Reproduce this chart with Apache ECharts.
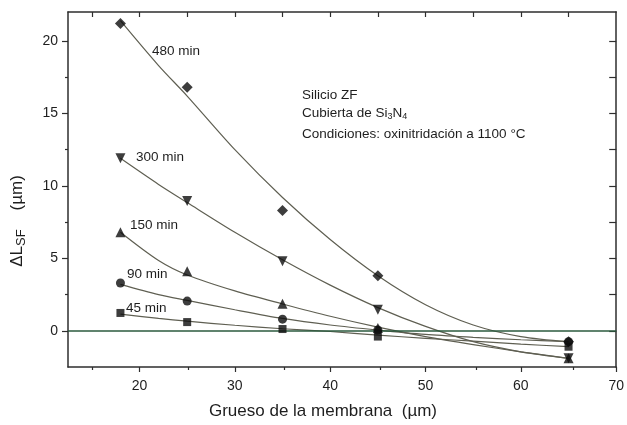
<!DOCTYPE html>
<html>
<head>
<meta charset="utf-8">
<script src="https://cdn.jsdelivr.net/npm/echarts@6/dist/echarts.min.js"></script>
<style>
  html, body { margin: 0; padding: 0; background: #fff; }
  #chart { width: 627px; height: 425px; }
</style>
</head>
<body>
<div id="chart"></div>
<script>
// Membrane thickness (µm) of the measured samples
const thickness = [18, 25, 35, 45, 65];

// Measured ΔL_SF (µm) for each oxinitridation time
const dl480 = [21.2, 16.8, 8.3, 3.8, -0.75];
const dl300 = [11.9, 8.95, 4.8, 1.45, -1.9];
const dl150 = [6.8, 4.1, 1.86, 0.2, -1.9];
const dl90 = [3.3, 2.05, 0.8, 0.05, -0.75];
const dl45 = [1.23, 0.6, 0.12, -0.4, -1.1];

// Fitted trend curves, sampled along the thickness axis
const fitX = [18, 22, 25, 30, 35, 40, 45, 50, 55, 60, 65];
const fit480 = [21.4, 18.3, 16.2, 12.5, 9.2, 6.3, 3.8, 1.8, 0.4, -0.4, -0.75];
const fit300 = [11.9, 10.1, 8.85, 6.8, 4.9, 3.15, 1.6, 0.3, -0.75, -1.45, -1.9];
const fit150 = [6.8, 4.85, 3.85, 2.75, 1.85, 1.0, 0.25, -0.4, -0.95, -1.45, -1.9];
const fit90 = [3.2, 2.5, 2.1, 1.45, 0.85, 0.4, 0.05, -0.25, -0.45, -0.62, -0.75];
const fit45 = [1.15, 0.85, 0.66, 0.38, 0.14, -0.05, -0.3, -0.52, -0.72, -0.92, -1.1];

// Tick positions
const xLabelTicks = [20, 30, 40, 50, 60, 70];
const xMinorTicks = [15, 25, 35, 45, 55, 65];
const xTopTicks = [15, 20, 25, 30, 35, 40, 45, 50, 55, 60, 65];
const yLabelTicks = [0, 5, 10, 15, 20];
const yMinorTicks = [2.5, 7.5, 12.5, 17.5];
const yRightTicks = [0, 2.5, 5, 7.5, 10, 12.5, 15, 17.5, 20];

const FONT = '"Liberation Sans", Arial, Helvetica, sans-serif';
const INK = '#1e1e1e';
const FRAME = '#2e2e2e';
const CURVE = '#5f5f52';
const MARK = '#0d0d0d';

const pairs = (xs, ys) => xs.map((x, i) => [x, ys[i]]);

const chart = echarts.init(document.getElementById('chart'), null, { renderer: 'canvas' });

const gridBox = { left: 68, top: 12, right: 6, bottom: 58 };
const X_MIN = 12.5, X_MAX = 70, Y_MIN = -2.5, Y_MAX = 22;

function fitSeries(name, ys, extra) {
  return Object.assign({
    name: name,
    type: 'line',
    xAxisIndex: 0,
    yAxisIndex: 0,
    data: pairs(fitX, ys),
    smooth: 0.3,
    showSymbol: false,
    silent: true,
    lineStyle: { color: CURVE, width: 1.2 },
    z: 2
  }, extra || {});
}

function pointSeries(name, ys, symbol, size, rotate) {
  return {
    name: name,
    type: 'scatter',
    xAxisIndex: 0,
    yAxisIndex: 0,
    data: pairs(thickness, ys),
    symbol: symbol,
    symbolSize: size,
    symbolRotate: rotate || 0,
    itemStyle: { color: MARK },
    z: 5
  };
}

const option = {
  animation: false,
  backgroundColor: '#fff',
  grid: [
    Object.assign({ show: false }, gridBox),
    Object.assign({ show: false }, gridBox)
  ],
  xAxis: [
    {
      gridIndex: 0, type: 'value', position: 'bottom', min: X_MIN, max: X_MAX,
      axisLine: { show: true, onZero: false, lineStyle: { color: FRAME, width: 1.5 } },
      axisTick: { show: true, inside: false, length: 5, customValues: xLabelTicks, lineStyle: { color: FRAME, width: 1.2 } },
      axisLabel: { show: true, customValues: xLabelTicks, margin: 12, color: INK, fontSize: 14, fontFamily: FONT },
      splitLine: { show: false }
    },
    {
      gridIndex: 0, type: 'value', position: 'top', min: X_MIN, max: X_MAX,
      axisLine: { show: true, onZero: false, lineStyle: { color: FRAME, width: 1.5 } },
      axisTick: { show: true, inside: true, length: 5, customValues: xTopTicks, lineStyle: { color: FRAME, width: 1.2 } },
      axisLabel: { show: false },
      splitLine: { show: false }
    },
    {
      gridIndex: 1, type: 'value', position: 'bottom', min: X_MIN, max: X_MAX,
      axisLine: { show: false, onZero: false },
      axisTick: { show: true, inside: false, length: 3, customValues: xMinorTicks, lineStyle: { color: FRAME, width: 1.2 } },
      axisLabel: { show: false },
      splitLine: { show: false }
    }
  ],
  yAxis: [
    {
      gridIndex: 0, type: 'value', position: 'left', min: Y_MIN, max: Y_MAX,
      axisLine: { show: true, onZero: false, lineStyle: { color: FRAME, width: 1.5 } },
      axisTick: { show: true, inside: false, length: 6, customValues: yLabelTicks, lineStyle: { color: FRAME, width: 1.2 } },
      axisLabel: { show: true, customValues: yLabelTicks, margin: 10, color: INK, fontSize: 14, fontFamily: FONT },
      splitLine: { show: false }
    },
    {
      gridIndex: 0, type: 'value', position: 'right', min: Y_MIN, max: Y_MAX,
      axisLine: { show: true, onZero: false, lineStyle: { color: FRAME, width: 1.5 } },
      axisTick: { show: true, inside: true, length: 7, customValues: yRightTicks, lineStyle: { color: FRAME, width: 1.2 } },
      axisLabel: { show: false },
      splitLine: { show: false }
    },
    {
      gridIndex: 1, type: 'value', position: 'left', min: Y_MIN, max: Y_MAX,
      axisLine: { show: false, onZero: false },
      axisTick: { show: true, inside: false, length: 3, customValues: yMinorTicks, lineStyle: { color: FRAME, width: 1.2 } },
      axisLabel: { show: false },
      splitLine: { show: false }
    }
  ],
  series: [
    fitSeries('480 min ajuste', fit480, {
      markLine: {
        silent: true,
        symbol: ['none', 'none'],
        label: { show: false },
        lineStyle: { color: '#2b5a3e', width: 1.6, type: 'solid' },
        data: [{ yAxis: 0 }]
      }
    }),
    fitSeries('300 min ajuste', fit300),
    fitSeries('150 min ajuste', fit150),
    fitSeries('90 min ajuste', fit90),
    fitSeries('45 min ajuste', fit45),
    pointSeries('480 min', dl480, 'diamond', 11),
    pointSeries('300 min', dl300, 'triangle', 10, 180),
    pointSeries('150 min', dl150, 'triangle', 10),
    pointSeries('90 min', dl90, 'circle', 9),
    pointSeries('45 min', dl45, 'rect', 8)
  ],
  graphic: [
    // curve labels
    { type: 'text', left: 152, top: 44, style: { text: '480 min', fill: INK, font: '13.5px ' + FONT } },
    { type: 'text', left: 136, top: 150, style: { text: '300 min', fill: INK, font: '13.5px ' + FONT } },
    { type: 'text', left: 130, top: 218, style: { text: '150 min', fill: INK, font: '13.5px ' + FONT } },
    { type: 'text', left: 127, top: 267, style: { text: '90 min', fill: INK, font: '13.5px ' + FONT } },
    { type: 'text', left: 126, top: 301, style: { text: '45 min', fill: INK, font: '13.5px ' + FONT } },
    // conditions note
    { type: 'text', left: 302, top: 88, style: { text: 'Silicio ZF', fill: INK, font: '13.5px ' + FONT } },
    {
      type: 'text', left: 302, top: 106,
      style: {
        text: '{m|Cubierta de Si}{s|3}{m|N}{s|4}',
        rich: {
          m: { fontSize: 13.5, fontFamily: FONT, fill: INK, color: INK },
          s: { fontSize: 9, fontFamily: FONT, fill: INK, color: INK, padding: [7, 0, 0, 0] }
        }
      }
    },
    { type: 'text', left: 302, top: 127, style: { text: 'Condiciones: oxinitridación a 1100 °C', fill: INK, font: '13.5px ' + FONT } },
    // axis titles
    {
      type: 'text', x: 323, y: 411,
      style: { text: 'Grueso de la membrana  (µm)', fill: INK, font: '17px ' + FONT, align: 'center', verticalAlign: 'middle' }
    },
    {
      type: 'text', x: 17, y: 221, rotation: Math.PI / 2,
      style: {
        text: '{m|ΔL}{s|SF}{m|    (µm)}',
        align: 'center', verticalAlign: 'middle',
        rich: {
          m: { fontSize: 17, fontFamily: FONT, fill: INK, color: INK },
          s: { fontSize: 13, fontFamily: FONT, fill: INK, color: INK, padding: [8, 0, 0, 0] }
        }
      }
    }
  ]
};

chart.setOption(option);
</script>
</body>
</html>
